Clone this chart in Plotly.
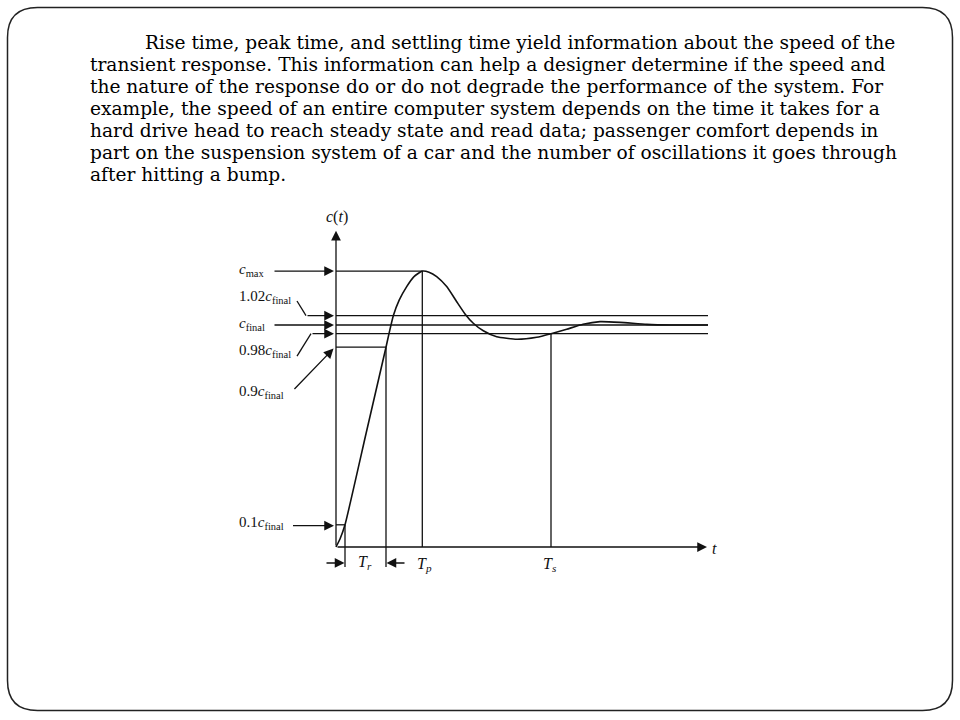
import plotly.graph_objects as go

# ---------------- data ----------------
paragraph_lines = [
    "Rise time, peak time, and settling time yield information about the speed of the",
    "transient response. This information can help a designer determine if the speed and",
    "the nature of the response do or do not degrade the performance of the system. For",
    "example, the speed of an entire computer system depends on the time it takes for a",
    "hard drive head to reach steady state and read data; passenger comfort depends in",
    "part on the suspension system of a car and the number of oscillations it goes through",
    "after hitting a bump.",
]

# response curve c(t) (t in arbitrary units, c in units of c_final, as drawn)
curve_t = [0.0, 0.4, 0.9, 3.0, 5.0, 5.3, 5.73, 6.33, 7.07, 7.8, 8.63,
           9.3, 10.07, 11.07, 12.07, 12.9, 13.73, 14.73, 16.07, 18.07, 20.07,
           21.5, 23.07, 24.7, 26.4, 28.4, 31.07, 33.5, 37.2]
curve_c = [0.0, 0.036, 0.1, 0.51, 0.9, 0.961, 1.042, 1.113, 1.173, 1.218, 1.243,
           1.238, 1.218, 1.173, 1.105, 1.050, 1.008, 0.974, 0.947, 0.936, 0.945,
           0.961, 0.981, 1.003, 1.015, 1.012, 1.003, 1.0, 1.0]

# characteristic levels (as drawn)
C_MAX = 1.243
C_UP = 1.042     # 1.02 c_final band
C_FIN = 1.0
C_LO = 0.961     # 0.98 c_final band
C_90 = 0.9
C_10 = 0.1

# characteristic times
T_10 = 0.9
T_90 = 5.0
T_P = 8.63
T_S = 21.5
T_END = 37.2
Y_TOP = 1.425

level_labels = {
    "cmax": "<i>c</i><sub>max</sub>",
    "up": "1.02<i>c</i><sub>final</sub>",
    "fin": "<i>c</i><sub>final</sub>",
    "lo": "0.98<i>c</i><sub>final</sub>",
    "c90": "0.9<i>c</i><sub>final</sub>",
    "c10": "0.1<i>c</i><sub>final</sub>",
}
time_labels = {"Tr": "<i>T<sub>r</sub></i>", "Tp": "<i>T<sub>p</sub></i>", "Ts": "<i>T<sub>s</sub></i>"}

# --------------- figure ---------------
BLACK = "#111111"
LW = 1.3
fig = go.Figure()

def seg(xs, ys, w=LW):
    fig.add_trace(go.Scatter(x=xs, y=ys, mode="lines", line=dict(color=BLACK, width=w),
                             hoverinfo="skip", showlegend=False))

# response curve
fig.add_trace(go.Scatter(x=curve_t, y=curve_c, mode="lines",
                         line=dict(color=BLACK, width=1.6, shape="spline", smoothing=0.5),
                         hoverinfo="skip", showlegend=False))

# horizontal guides
seg([0, T_P], [C_MAX, C_MAX])
seg([0, T_END], [C_UP, C_UP])
seg([0, T_END], [C_FIN, C_FIN])
seg([0, T_END], [C_LO, C_LO])
seg([0, T_90], [C_90, C_90])
seg([0, T_10], [C_10, C_10])

# vertical guides
BELOW = -0.09
seg([T_10, T_10], [C_10, BELOW])
seg([T_90, T_90], [C_90, BELOW])
seg([T_P, T_P], [C_MAX, 0])
seg([T_S, T_S], [C_LO, 0])

# leader diagonals for 1.02 and 0.98
seg([-3.9, -3.0], [1.108, C_UP])
seg([-3.9, -2.5], [0.86, C_LO])

ann = []
def arrow(x, y, ax, ay):
    ann.append(dict(x=x, y=y, ax=ax, ay=ay, xref="x", yref="y", axref="x", ayref="y",
                    showarrow=True, arrowhead=2, arrowsize=1.5, arrowwidth=LW,
                    arrowcolor=BLACK, text="", standoff=0, startstandoff=0))

# axes
arrow(0, Y_TOP, 0, 0)
arrow(T_END - 0.1, 0, 0, 0)

# label arrows
arrow(-0.2, C_MAX, -6.3, C_MAX)
arrow(-0.2, C_UP, -3.0, C_UP)
arrow(-0.2, C_FIN, -6.3, C_FIN)
arrow(-0.2, C_LO, -2.5, C_LO)
arrow(-0.25, C_90 - 0.006, -4.3, 0.705)
arrow(-0.2, C_10 - 0.004, -4.45, C_10 - 0.004)

# T_r markers
arrow(T_10 - 0.05, -0.072, -1.1, -0.072)
arrow(T_90 + 0.05, -0.072, 7.0, -0.072)

def text(x, y, s, anchor="left", size=15):
    ann.append(dict(x=x, y=y, xref="x", yref="y", text=s, showarrow=False,
                    xanchor=anchor, yanchor="middle",
                    font=dict(family="Liberation Serif", size=size, color=BLACK)))

LX = -9.9
text(LX, 1.248, level_labels["cmax"])
text(LX, 1.128, level_labels["up"])
text(LX, 1.004, level_labels["fin"])
text(LX, 0.885, level_labels["lo"])
text(LX, 0.70, level_labels["c90"])
text(LX, 0.108, level_labels["c10"])
text(0.1, 1.485, "<i>c</i>(<i>t</i>)", anchor="center", size=16)
text(37.8, -0.005, "<i>t</i>", anchor="center", size=16)
text(2.9, -0.072, time_labels["Tr"], anchor="center", size=16)
text(8.8, -0.078, time_labels["Tp"], anchor="center", size=16)
text(21.4, -0.078, time_labels["Ts"], anchor="center", size=16)

# paragraph
for i, line in enumerate(paragraph_lines):
    px_y = 42 + 22 * i
    x0 = 143 if i == 0 else 88
    ann.append(dict(x=x0 / 960, y=1 - px_y / 720, xref="paper", yref="paper",
                    text=line, showarrow=False, xanchor="left", yanchor="middle",
                    font=dict(family="DejaVu Serif", size=18.6, color="#000000")))

# rounded frame (paper coords)
x0, x1 = 7.5 / 960, 952.5 / 960
y0, y1 = 1 - 710.5 / 720, 1 - 7.5 / 720
rx, ry = 30 / 960, 30 / 720
path = (f"M {x0+rx},{y1} L {x1-rx},{y1} Q {x1},{y1} {x1},{y1-ry} "
        f"L {x1},{y0+ry} Q {x1},{y0} {x1-rx},{y0} L {x0+rx},{y0} "
        f"Q {x0},{y0} {x0},{y0+ry} L {x0},{y1-ry} Q {x0},{y1} {x0+rx},{y1} Z")

fig.update_layout(
    width=960, height=720, margin=dict(l=0, r=0, t=0, b=0),
    paper_bgcolor="white", plot_bgcolor="white",
    xaxis=dict(range=[-33.6, 62.4], visible=False, domain=[0, 1], fixedrange=True),
    yaxis=dict(range=[-173 / 222, 547 / 222], visible=False, domain=[0, 1], fixedrange=True),
    annotations=ann,
    shapes=[dict(type="path", path=path, xref="paper", yref="paper",
                 line=dict(color="#222222", width=1.5))],
    showlegend=False,
)

fig.write_html("out.html", config={"displayModeBar": False},
               post_script="document.body.style.margin='0px';document.body.style.overflow='hidden';")
